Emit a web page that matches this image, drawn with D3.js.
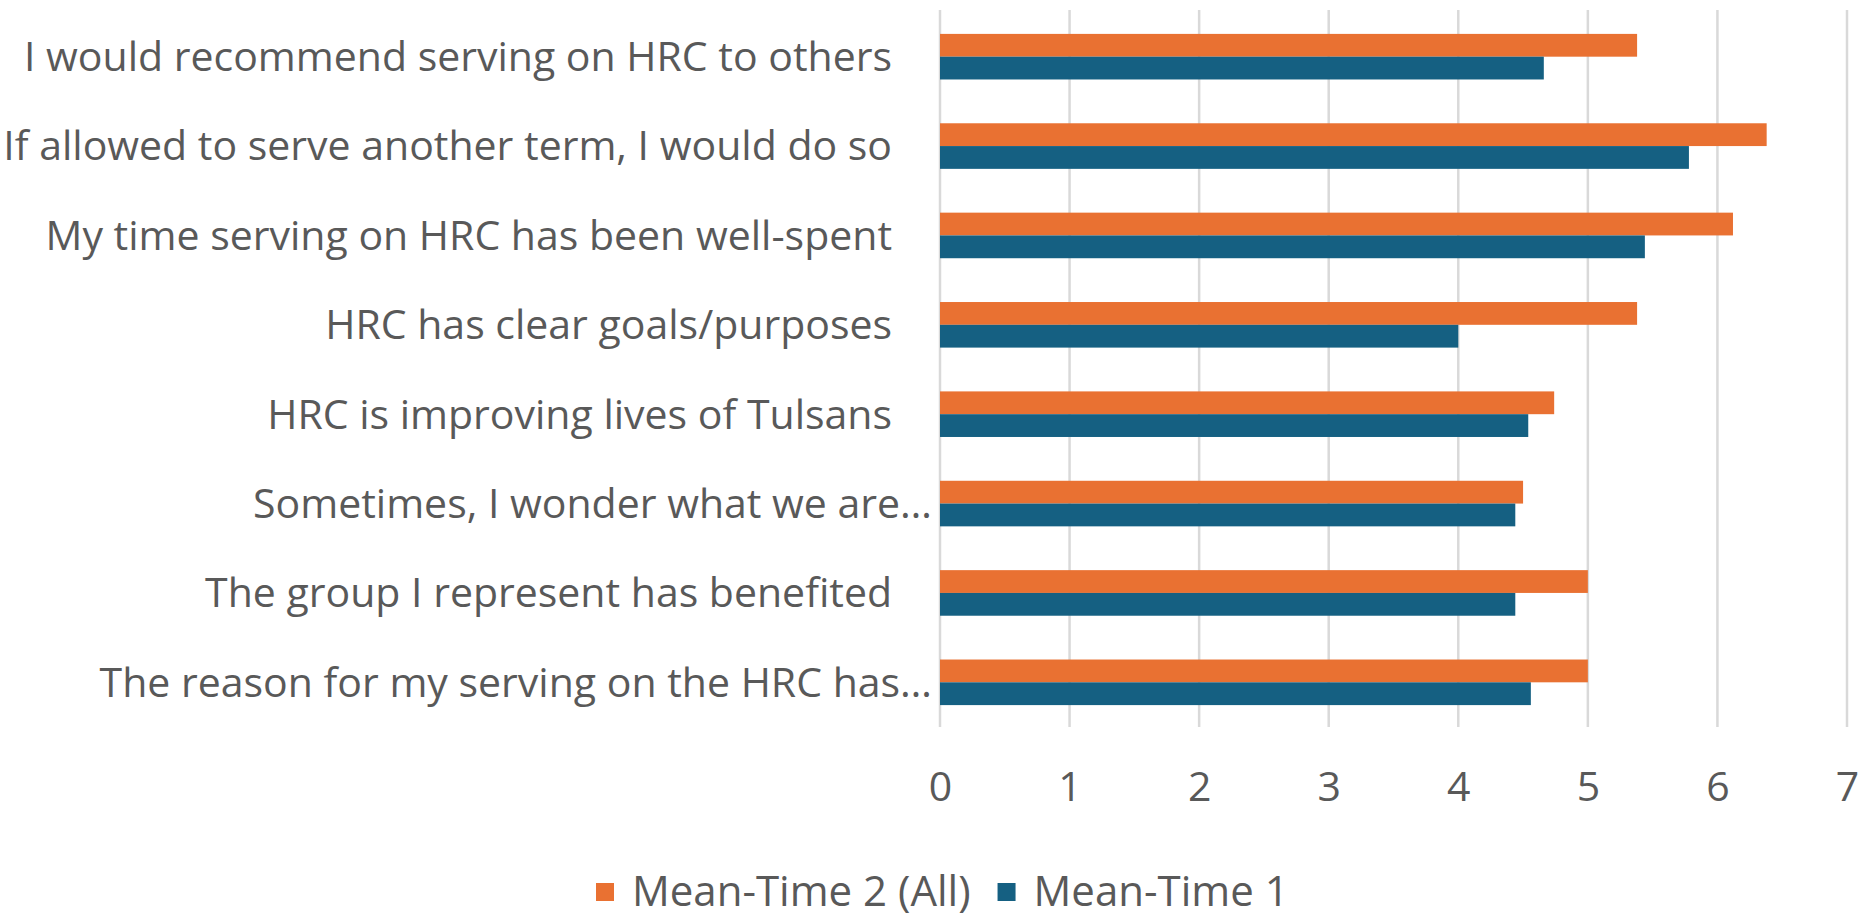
<!DOCTYPE html>
<html>
<head>
<meta charset="utf-8">
<script src="https://cdn.jsdelivr.net/npm/d3@7"></script>
<style>
  html, body { margin: 0; padding: 0; background: #ffffff; }
  svg { display: block; }
  text { font-family: "Open Sans", "Noto Sans", sans-serif; fill: #595959; }
</style>
</head>
<body>
<svg id="chart" width="1870" height="919"></svg>
<script>
const categories = [
  "I would recommend serving on HRC to others",
  "If allowed to serve another term, I would do so",
  "My time serving on HRC has been well-spent",
  "HRC has clear goals/purposes",
  "HRC is improving lives of Tulsans",
  "Sometimes, I wonder what we are…",
  "The group I represent has benefited",
  "The reason for my serving on the HRC has…"
];
const seriesNames = ["Mean-Time 2 (All)", "Mean-Time 1"];
const meanTime2 = [5.38, 6.38, 6.12, 5.38, 4.74, 4.50, 5.00, 5.00];
const meanTime1 = [4.66, 5.78, 5.44, 4.00, 4.54, 4.44, 4.44, 4.56];
const tickValues = [0, 1, 2, 3, 4, 5, 6, 7];
const colors = ["#E97132", "#156082"];

const svg = d3.select("#chart");
const FONT = "'Open Sans', 'Noto Sans', sans-serif";
const fontSize = 41;
const legendFontSize = 42;

const x = d3.scaleLinear().domain([0, 7]).range([940, 1847]);
const y = d3.scaleBand().domain(categories).range([12, 727])
  .paddingInner(0.49).paddingOuter(0.245);
const ySub = d3.scaleBand().domain(seriesNames).range([0, y.bandwidth()]);
const color = d3.scaleOrdinal().domain(seriesNames).range(colors);

// gridlines
svg.append("g").selectAll("line").data(tickValues).join("line")
  .attr("x1", d => x(d)).attr("x2", d => x(d))
  .attr("y1", 10).attr("y2", 727)
  .attr("stroke", "#d9d9d9").attr("stroke-width", 2.5);

// bars
const rows = categories.map((c, i) => ({ cat: c, vals: [meanTime2[i], meanTime1[i]] }));
const grp = svg.append("g").selectAll("g").data(rows).join("g")
  .attr("transform", d => `translate(0,${y(d.cat)})`);
grp.selectAll("rect").data(d => seriesNames.map((s, j) => ({ s, v: d.vals[j] }))).join("rect")
  .attr("x", x(0))
  .attr("y", d => ySub(d.s))
  .attr("width", d => x(d.v) - x(0))
  .attr("height", ySub.bandwidth())
  .attr("fill", d => color(d.s));

// x tick labels
const xAxis = d3.axisBottom(x).tickValues(tickValues).tickSize(0).tickPadding(0).tickFormat(d3.format("d"));
const gx = svg.append("g").attr("transform", "translate(0,772)").call(xAxis);
gx.select(".domain").remove();
gx.selectAll("text").attr("font-size", fontSize).attr("dy", "0.71em")
  .style("font-family", FONT).attr("fill", "#595959");

// category labels
const yAxis = d3.axisLeft(y).tickSize(0).tickPadding(0);
const gy = svg.append("g").attr("transform", `translate(${x(0)},0)`).call(yAxis);
gy.select(".domain").remove();
gy.selectAll("text")
  .attr("font-size", fontSize)
  .attr("x", d => d.endsWith("…") ? -8 : -48)
  .attr("dy", "0.35em")
  .style("font-family", FONT).attr("fill", "#595959");

// legend
const legend = svg.append("g").attr("transform", "translate(596,891)");
let lx = 0;
seriesNames.forEach((s, i) => {
  const g = legend.append("g").attr("transform", `translate(${lx},0)`);
  g.append("rect").attr("x", 0).attr("y", -8).attr("width", 18).attr("height", 18).attr("fill", color(s));
  const t = g.append("text").attr("x", 36).attr("dy", "0.35em").attr("font-size", legendFontSize).text(s);
  lx += 36 + t.node().getComputedTextLength() + 27;
});
</script>
</body>
</html>
